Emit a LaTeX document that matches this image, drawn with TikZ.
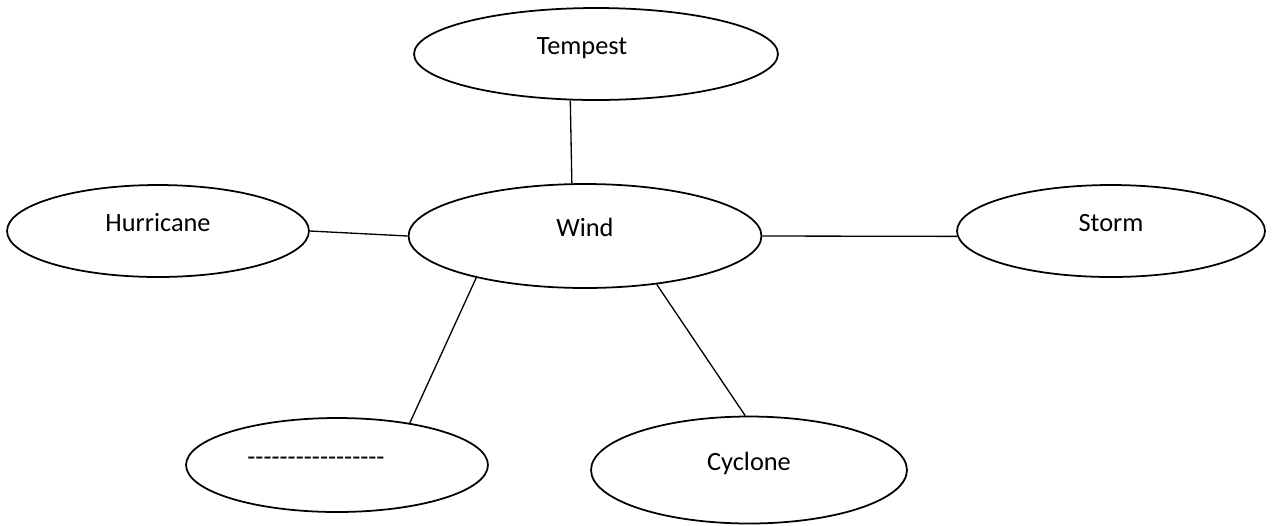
\documentclass[tikz,border=0pt]{standalone}
\usepackage{fontspec}
\setmainfont{Carlito}
\usetikzlibrary{shapes.geometric}
\begin{document}
\begin{tikzpicture}[x=0.02cm, y=-0.02cm,
  bubble/.style={ellipse, draw, line width=1pt, inner sep=0pt, text height=5pt, text depth=5pt, font=\fontsize{15}{18}\selectfont},
  spoke/.style={line width=0.75pt}]
\useasboundingbox (0,0) rectangle (1277,525);
\node[bubble, minimum width=7.28cm, minimum height=1.84cm] (tempest) at (596,54) {Tempest\hspace*{0.56cm}};
\node[bubble, minimum width=7.06cm, minimum height=2.08cm] (wind) at (585,236) {Wind};
\node[bubble, minimum width=6.04cm, minimum height=1.84cm] (hurricane) at (158,231) {Hurricane};
\node[bubble, minimum width=6.16cm, minimum height=1.84cm] (storm) at (1111,231) {Storm};
\node[bubble, minimum width=6.04cm, minimum height=1.88cm] (blank) at (337,465) {\foreach \k in {1,...,17}{-\kern0pt}\hspace*{0.84cm}};
\node[bubble, minimum width=6.32cm, minimum height=2.14cm] (cyclone) at (749,470) {Cyclone};
\draw[spoke] (tempest.241)--(wind.104);
\draw[spoke] (hurricane.east)--(wind.west);
\draw[spoke] (wind.east)--(storm.182);
\draw[spoke] (wind.201)--(blank.30);
\draw[spoke] (wind.326)--(cyclone.94);
\end{tikzpicture}
\end{document}
